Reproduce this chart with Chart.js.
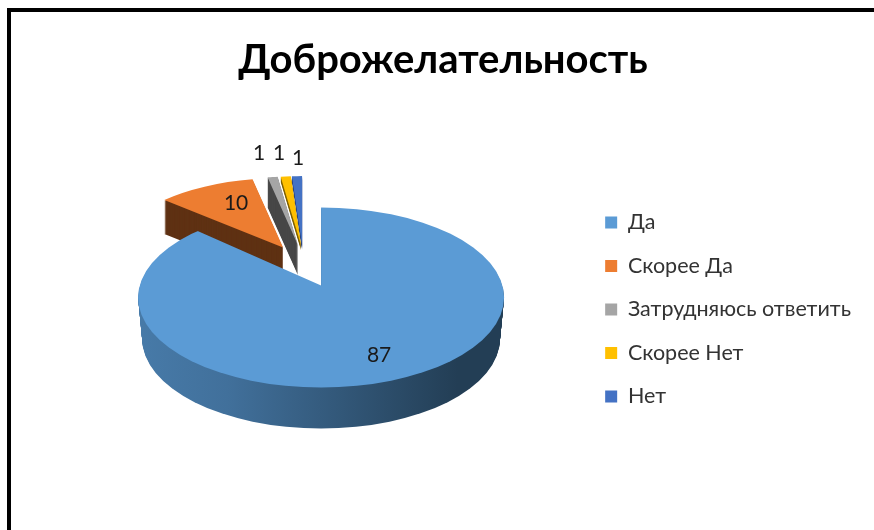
<!DOCTYPE html>
<html>
<head>
<meta charset="utf-8">
<style>
    body { margin: 0; background: #fff; }
    #moldura { position: absolute; left: 7px; top: 8px; width: 867px; height: 522px; box-sizing: border-box; border-left: 4px solid #000; border-top: 4px solid #000; }
    #area { position: absolute; left: 0; top: 0; width: 874px; height: 530px; }
</style>
<script src="https://cdn.jsdelivr.net/npm/chart.js@4"></script>
</head>
<body>
<div id="area"><canvas id="grafico" width="874" height="530"></canvas></div>
<div id="moldura"></div>
<script>
const categorias = ['Да', 'Скорее Да', 'Затрудняюсь ответить', 'Скорее Нет', 'Нет'];
const valores = [87, 10, 1, 1, 1];

// cores do topo e da parede lateral de cada fatia
const cores = ['#5b9bd5', '#ed7d31', '#a5a5a5', '#ffc000', '#4472c4'];
const coresParede = ['#233e55', '#5f3113', '#474747', '#7f6000', '#22386b'];

// deslocamento das fatias destacadas, relativo ao centro da pizza
const destaqueX = [0, -38, -23, -20, -19];
const destaqueY = [0, -38, -40, -40, -40];
const paredes = [41, 34, 30, 5, 4];
const posRotuloX = [58, -85, -62, -42, -23];
const posRotuloY = [70, -82, -132, -132, -127];

const raio = 183;
const achatamentoFundo = 0.426;
const achatamentoAzul = 0.47;

// ajustes finos depois do layout do Chart.js
const ajusteLegendaX = 15;
const ajusteLegendaY = 55;
const ajusteTituloX = -17;
const ajusteTituloY = 0;

// desenha uma fatia usando o proprio elemento de arco do Chart.js
function desenharArco(ctx, arco, cor) {
    const original = arco.options;
    arco.options = Object.assign({}, original, { backgroundColor: cor, borderWidth: 0 });
    arco.draw(ctx);
    arco.options = original;
}

function fatiaPequena(ctx, arco, i, dy, cor) {
    ctx.save();
    ctx.translate(arco.x + destaqueX[i], arco.y + destaqueY[i] + dy);
    ctx.scale(0.89, 0.89 * achatamentoFundo);
    ctx.translate(-arco.x, -arco.y);
    desenharArco(ctx, arco, cor);
    ctx.restore();
}

// a fatia grande fica com o vertice fora do centro da elipse (perspectiva)
function fatiaGrande(ctx, arco, dy, rx, cor) {
    ctx.save();
    ctx.beginPath();
    ctx.ellipse(arco.x, arco.y + 12 + dy, rx, 90, 0, 0, Math.PI * 2);
    ctx.clip();
    ctx.translate(arco.x, arco.y + dy);
    ctx.scale(1.7, 1.7 * achatamentoAzul);
    ctx.translate(-arco.x, -arco.y);
    desenharArco(ctx, arco, cor);
    ctx.restore();
}

const pizza3d = {
    id: 'pizza3d',
    afterLayout(chart) {
        chart.legend.left += ajusteLegendaX;
        chart.legend.right += ajusteLegendaX;
        chart.legend.top += ajusteLegendaY;
        chart.legend.bottom += ajusteLegendaY;
        chart.titleBlock.left += ajusteTituloX;
        chart.titleBlock.right += ajusteTituloX;
        chart.titleBlock.top += ajusteTituloY;
        chart.titleBlock.bottom += ajusteTituloY;
    },
    beforeDatasetsDraw(chart) {
        const ctx = chart.ctx;
        const arcos = chart.getDatasetMeta(0).data;

        // primeiro as paredes, depois os topos
        for (let i = 1; i < arcos.length; i++) {
            for (let d = paredes[i]; d > 0; d--) {
                fatiaPequena(ctx, arcos[i], i, d, coresParede[i]);
            }
            if (i === 1) {
                fatiaPequena(ctx, arcos[i], i, 0, cores[i]);
            }
        }
        for (let i = 2; i < arcos.length; i++) {
            fatiaPequena(ctx, arcos[i], i, 0, cores[i]);
        }

        const centro = arcos[0];
        const gradiente = ctx.createLinearGradient(centro.x - raio, 0, centro.x + raio, 0);
        gradiente.addColorStop(0, '#5089bb');
        gradiente.addColorStop(0.35, '#41709b');
        gradiente.addColorStop(0.72, coresParede[0]);
        gradiente.addColorStop(1, coresParede[0]);
        for (let d = paredes[0]; d > 0; d--) {
            fatiaGrande(ctx, centro, d, raio - 4 * d / paredes[0], gradiente);
        }
        fatiaGrande(ctx, centro, 0, raio, cores[0]);
        return false;
    },
    afterDraw(chart) {
        const ctx = chart.ctx;
        const centro = chart.getDatasetMeta(0).data[0];
        ctx.save();
        ctx.font = '21px Lato, "Open Sans", sans-serif';
        ctx.fillStyle = '#1a1a1a';
        ctx.textAlign = 'center';
        ctx.textBaseline = 'middle';
        valores.forEach(function (v, i) {
            ctx.fillText(String(v), centro.x + posRotuloX[i], centro.y + posRotuloY[i]);
        });
        ctx.restore();
    }
};

new Chart(document.getElementById('grafico'), {
    type: 'pie',
    data: {
        labels: categorias,
        datasets: [{
            data: valores,
            backgroundColor: cores,
            borderWidth: 0
        }]
    },
    options: {
        responsive: false,
        animation: false,
        events: [],
        radius: raio,
        layout: { padding: { left: 74, right: 28, top: 36, bottom: 57 } },
        plugins: {
            tooltip: { enabled: false },
            title: {
                display: true,
                text: 'Доброжелательность',
                color: '#000',
                font: { family: 'Lato, "Open Sans", sans-serif', size: 40, weight: 'bold' },
                padding: { top: 0, bottom: 14 }
            },
            legend: {
                position: 'right',
                labels: {
                    boxWidth: 12,
                    boxHeight: 12,
                    padding: 22,
                    color: '#333',
                    font: { family: 'Lato, "Open Sans", sans-serif', size: 21.5 }
                }
            }
        }
    },
    plugins: [pizza3d]
});
</script>
</body>
</html>
